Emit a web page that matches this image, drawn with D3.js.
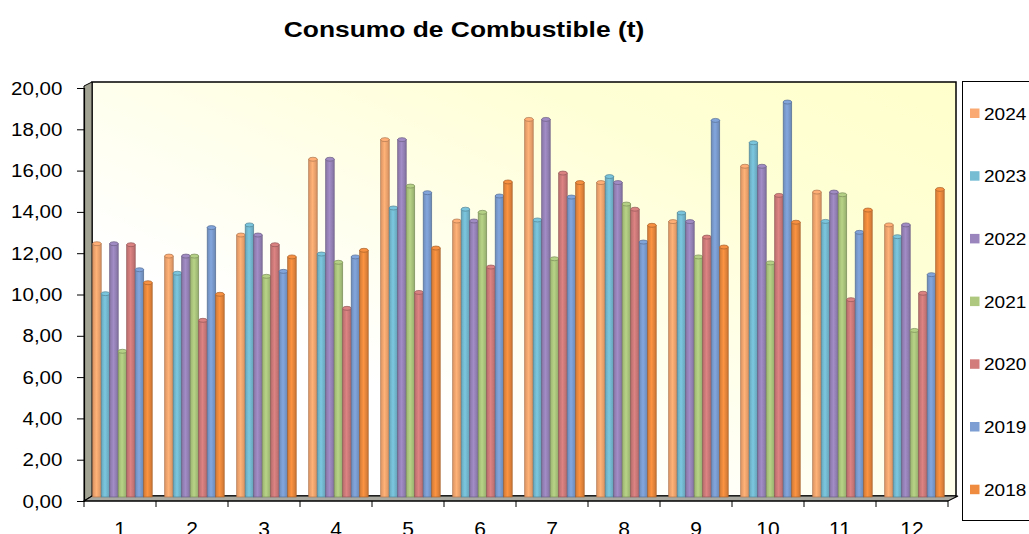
<!DOCTYPE html>
<html>
<head>
<meta charset="utf-8">
<script src="https://cdn.jsdelivr.net/npm/d3@7"></script>
<style>
  body { margin: 0; background: #fff; }
  text { font-family: Arial, "Liberation Sans", sans-serif; fill: #000; }
</style>
</head>
<body>
<script>
const categories = ['1', '2', '3', '4', '5', '6', '7', '8', '9', '10', '11', '12'];
const years = ['2024', '2023', '2022', '2021', '2020', '2019', '2018'];
const colors = ['#F9A971', '#76BDD4', '#9A86BC', '#AEC97F', '#D27C7C', '#7C9ED2', '#EE8B3E'];

const v2024 = [12.46, 11.86, 12.88, 16.55, 17.50, 13.56, 18.48, 15.42, 13.53, 16.21, 14.96, 13.37];
const v2023 = [10.04, 11.03, 13.37, 11.96, 14.19, 14.13, 13.61, 15.71, 13.95, 17.35, 13.54, 12.80];
const v2022 = [12.46, 11.86, 12.88, 16.55, 17.50, 13.56, 18.48, 15.42, 13.53, 16.21, 14.96, 13.37];
const v2021 = [7.25, 11.86, 10.88, 11.56, 15.25, 13.98, 11.73, 14.38, 11.82, 11.53, 14.83, 8.26];
const v2020 = [12.41, 8.75, 12.41, 9.33, 10.10, 11.33, 15.88, 14.13, 12.78, 14.80, 9.75, 10.06];
const v2019 = [11.20, 13.24, 11.12, 11.82, 14.93, 14.77, 14.72, 12.54, 18.43, 19.32, 13.01, 10.96];
const v2018 = [10.57, 10.01, 11.82, 12.14, 12.25, 15.45, 15.42, 13.35, 12.30, 13.50, 14.09, 15.09];
const series = [v2024, v2023, v2022, v2021, v2020, v2019, v2018];

const yTicks = [0, 2, 4, 6, 8, 10, 12, 14, 16, 18, 20];
const fmt = d => d3.format('.2f')(d).replace('.', ',');

const W = 1029, H = 534;
const mLeft = 84, mRight = 948, mBottom = 501, mTop = 88;
const dx = 8, dy = 5;   // 3d depth offset

const svg = d3.select('body').append('svg')
    .attr('width', W).attr('height', H);

const defs = svg.append('defs');
const bg = defs.append('linearGradient').attr('id', 'bg')
    .attr('x1', '0%').attr('y1', '100%').attr('x2', '100%').attr('y2', '0%');
bg.append('stop').attr('offset', '0.3').attr('stop-color', '#ffffff');
bg.append('stop').attr('offset', '0.75').attr('stop-color', '#ffffd6');
bg.append('stop').attr('offset', '1').attr('stop-color', '#ffffcc');

colors.forEach((c, i) => {
    const g = defs.append('linearGradient').attr('id', 'bar' + i)
        .attr('x1', '0%').attr('x2', '100%').attr('y1', '0%').attr('y2', '0%');
    g.append('stop').attr('offset', '0').attr('stop-color', d3.color(c).darker(0.35));
    g.append('stop').attr('offset', '0.45').attr('stop-color', d3.color(c).brighter(0.15));
    g.append('stop').attr('offset', '1').attr('stop-color', d3.color(c).darker(0.45));
});

const x = d3.scaleBand().domain(categories).range([mLeft, mRight]);
const xi = d3.scaleBand().domain(years).range([0.7, 60.2]);
const y = d3.scaleLinear().domain([0, 20]).range([mBottom, mTop]);

// title
svg.append('g')
    .attr('transform', 'translate(464,37) scale(1.2,1)')
    .append('text')
    .attr('text-anchor', 'middle')
    .style('font-size', '22px').style('font-weight', 'bold')
    .text('Consumo de Combustible (t)');

// back wall
svg.append('rect')
    .attr('x', mLeft + dx).attr('y', mTop - 6)
    .attr('width', mRight - mLeft).attr('height', mBottom - dy - (mTop - 6))
    .attr('fill', 'url(#bg)')
    .attr('stroke', '#000').attr('stroke-width', 1.5);

// side wall
svg.append('path')
    .attr('d', `M${mLeft},${mTop - 2}L${mLeft + dx},${mTop - 6}L${mLeft + dx},${mBottom - dy}L${mLeft},${mBottom}Z`)
    .attr('fill', '#a3a393').attr('stroke', '#000').attr('stroke-width', 1);

// floor
svg.append('path')
    .attr('d', `M${mLeft},${mBottom}L${mRight},${mBottom}L${mRight + dx + 2},${mBottom - dy}L${mLeft + dx},${mBottom - dy}Z`)
    .attr('fill', '#a8a8a0').attr('stroke', '#000').attr('stroke-width', 1.2);

// bars
const groups = svg.append('g').selectAll('g')
    .data(series)
    .join('g');

groups.each(function (vals, si) {
    const g = d3.select(this);
    const bw = xi.bandwidth();
    const floorY = mBottom - dy + 1;
    vals.forEach((v, ci) => {
        const bx = x(categories[ci]) + dx + xi(years[si]);
        const ty = y(v) - 2;
        g.append('rect')
            .attr('x', bx).attr('y', ty + 2)
            .attr('width', bw).attr('height', floorY - ty - 2)
            .attr('fill', `url(#bar${si})`)
            .attr('stroke', d3.color(colors[si]).darker(1))
            .attr('stroke-width', 0.7);
        g.append('ellipse')
            .attr('cx', bx + bw / 2).attr('cy', ty + 2)
            .attr('rx', bw / 2).attr('ry', 2)
            .attr('fill', d3.color(colors[si]).brighter(0.1))
            .attr('stroke', d3.color(colors[si]).darker(1))
            .attr('stroke-width', 0.7);
    });
});

// y axis
const yAxis = svg.append('g')
    .attr('transform', `translate(${mLeft},0)`)
    .call(d3.axisLeft(y).tickValues(yTicks).tickFormat(fmt).tickSize(7).tickPadding(13));
yAxis.select('.domain').attr('stroke', '#000').attr('stroke-width', 1.2);
yAxis.selectAll('.tick line').attr('stroke', '#000');
yAxis.selectAll('.tick text')
    .style('font-size', '19px')
    .attr('font-family', 'Arial, "Liberation Sans", sans-serif')
    .attr('transform', 'scale(1.08,1)');

// x axis
const xAxis = svg.append('g')
    .attr('transform', `translate(0,${mBottom})`)
    .call(d3.axisBottom(x).tickSize(0).tickPadding(0));
xAxis.select('.domain').remove();
xAxis.selectAll('.tick text').remove();
xAxis.append('line')
    .attr('x1', mLeft).attr('x2', mRight).attr('stroke', '#000').attr('stroke-width', 1.2);
xAxis.selectAll('.bnd')
    .data(categories.concat(['end']))
    .join('line')
    .attr('x1', (d, i) => mLeft + i * x.step())
    .attr('x2', (d, i) => mLeft + i * x.step())
    .attr('y1', 0).attr('y2', 6)
    .attr('stroke', '#000');
xAxis.selectAll('.tick')
    .append('g')
    .attr('transform', 'translate(0,35) scale(1.05,1)')
    .append('text')
    .attr('text-anchor', 'middle')
    .style('font-size', '20px')
    .text(d => d);

// legend
const lg = svg.append('g');
lg.append('rect')
    .attr('x', 962.5).attr('y', 81.5).attr('width', 80).attr('height', 439)
    .attr('fill', '#fff').attr('stroke', '#000').attr('stroke-width', 1);
const item = lg.selectAll('.item')
    .data(years)
    .join('g')
    .attr('transform', (d, i) => `translate(970,${113.5 + i * 62.7})`);
item.append('rect')
    .attr('x', 0).attr('y', -5).attr('width', 9.5).attr('height', 9.5)
    .attr('fill', (d, i) => colors[i]);
item.append('g')
    .attr('transform', 'translate(14,6) scale(1.12,1)')
    .append('text')
    .style('font-size', '17px')
    .text(d => d);
</script>
</body>
</html>
